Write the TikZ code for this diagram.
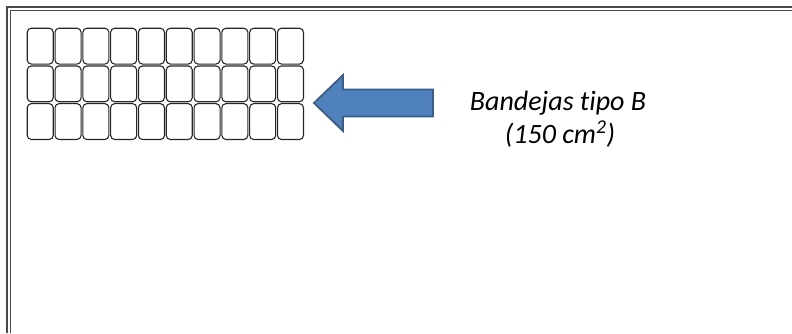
\documentclass[tikz,border=0pt]{standalone}
\usepackage{fontspec}
\setmainfont[Ligatures=NoCommon]{Carlito}
\definecolor{arrowfill}{HTML}{4F81BD}
\definecolor{arrowline}{HTML}{385D8A}
\definecolor{frameline}{HTML}{4A4A4A}
\begin{document}
\begin{tikzpicture}[x=1pt,y=-1pt,
  frame/.style={draw=frameline,line width=1.3pt},
  tray/.style={draw=black!85,line width=1.1pt,rounded corners=4pt,
    minimum width=26pt,minimum height=35.8pt,inner sep=0pt,anchor=north west},
  blockarrow/.style={fill=arrowfill,draw=arrowline,line width=1.8pt,line join=miter},
  caption/.style={font=\fontsize{28}{33}\selectfont\itshape,inner sep=0pt,anchor=base}]
  \useasboundingbox (0,0) rectangle (792,333);
  % double frame, open to the right and bottom
  \draw[frame] (7,333) -- (7,7) -- (792,7);
  \draw[frame] (10.5,333) -- (10.5,10.5) -- (792,10.5);
  % 3 x 10 grid of trays
  \foreach \r in {0,1,2}{
    \foreach \c in {0,...,9}{
      \node[tray] (t-\r-\c) at ({26.7+27.8*\c},{27.7+37.7*\r}) {};
    }
  }
  % block arrow pointing at the trays
  \draw[blockarrow] (314,103) -- (343,75) -- (343,89.5) -- (433,89.5)
    -- (433,116.5) -- (343,116.5) -- (343,131) -- cycle;
  % caption
  \node[caption] (lab1) at (558,110) {Bandejas tipo B};
  \node[caption] (lab2) at (560,143) {(150 cm\textsuperscript{2})};
\end{tikzpicture}
\end{document}
